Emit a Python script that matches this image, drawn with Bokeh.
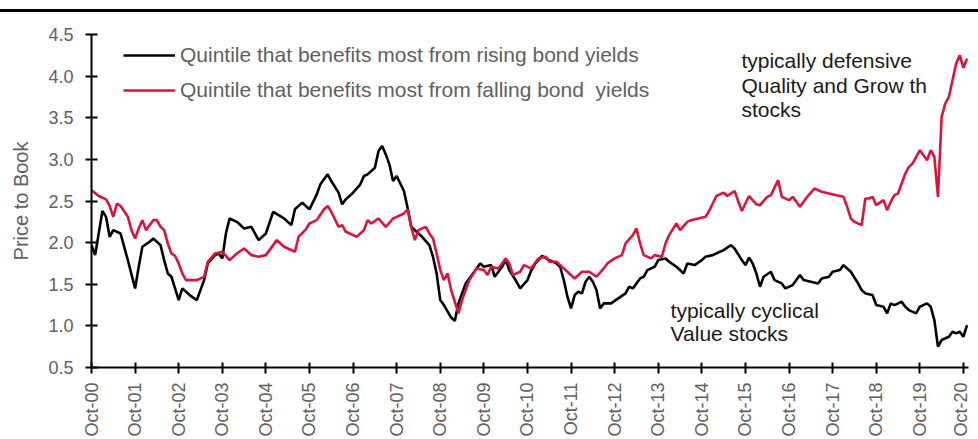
import math
from bokeh.plotting import figure
from bokeh.models import (Range1d, FixedTicker, NumeralTickFormatter, Legend,
                          LegendItem, Label, Div)
from bokeh.layouts import column
from bokeh.embed import file_html
from bokeh.resources import INLINE

# ---- data: months since Oct-2000, price-to-book ----
black_months = [0, 1, 3, 4, 5, 6, 8, 9, 10, 12, 13, 14, 16, 17, 19, 20, 21, 22, 24, 25,
                27, 29, 31, 32, 34, 35, 36, 37, 38, 40, 42, 44, 46, 48, 50, 53, 55, 56, 58, 59,
                60, 62, 63, 65, 66, 68, 69, 70, 72, 74, 75, 76, 78, 79, 80, 81, 82, 83, 84, 86,
                87, 88, 90, 91, 93, 94, 95, 96, 97, 99, 100, 101, 103, 105, 107, 108, 110, 111, 113, 114,
                115, 117, 118, 120, 121, 122, 124, 126, 128, 129, 130, 131, 132, 133, 134, 135, 136, 137, 138, 139,
                140, 141, 143, 145, 147, 148, 149, 151, 152, 153, 155, 156, 158, 159, 161, 163, 164, 166, 168, 169,
                171, 173, 174, 176, 177, 179, 180, 181, 182, 183, 184, 185, 187, 188, 190, 191, 193, 195, 196, 198,
                200, 201, 203, 204, 206, 207, 209, 211, 212, 213, 215, 216, 218, 219, 220, 221, 223, 224, 225, 227,
                228, 230, 231, 232, 233, 234, 236, 237, 238, 239, 240, 241]
black_pb = [1.97, 1.85, 2.38, 2.31, 2.07, 2.15, 2.11, 1.95, 1.79, 1.45, 1.71, 1.95, 2.01, 2.05, 1.97, 1.79, 1.63, 1.59, 1.31, 1.45,
            1.37, 1.31, 1.55, 1.75, 1.85, 1.87, 1.81, 2.11, 2.29, 2.25, 2.17, 2.19, 2.03, 2.11, 2.37, 2.29, 2.21, 2.40, 2.48, 2.44,
            2.40, 2.58, 2.70, 2.82, 2.74, 2.60, 2.46, 2.52, 2.60, 2.70, 2.80, 2.82, 2.90, 3.10, 3.16, 3.06, 2.94, 2.74, 2.80, 2.62,
            2.42, 2.19, 2.11, 2.07, 1.97, 1.83, 1.63, 1.31, 1.25, 1.10, 1.06, 1.27, 1.51, 1.63, 1.75, 1.71, 1.73, 1.59, 1.71, 1.79,
            1.67, 1.53, 1.45, 1.55, 1.66, 1.74, 1.84, 1.79, 1.75, 1.71, 1.55, 1.35, 1.21, 1.37, 1.41, 1.39, 1.53, 1.59, 1.53, 1.43,
            1.21, 1.27, 1.27, 1.33, 1.39, 1.47, 1.45, 1.57, 1.59, 1.67, 1.71, 1.79, 1.81, 1.77, 1.71, 1.63, 1.75, 1.73, 1.79, 1.83,
            1.85, 1.89, 1.91, 1.97, 1.93, 1.79, 1.73, 1.82, 1.75, 1.63, 1.47, 1.59, 1.65, 1.55, 1.51, 1.45, 1.49, 1.61, 1.55, 1.53,
            1.51, 1.57, 1.59, 1.65, 1.67, 1.73, 1.65, 1.51, 1.43, 1.39, 1.37, 1.25, 1.23, 1.15, 1.27, 1.25, 1.29, 1.23, 1.19, 1.15,
            1.23, 1.27, 1.23, 1.07, 0.75, 0.83, 0.87, 0.93, 0.91, 0.93, 0.87, 1.01]

red_months = [0, 2, 4, 5, 6, 7, 8, 10, 11, 12, 13, 14, 15, 17, 18, 19, 20, 21, 22, 23,
              24, 25, 26, 29, 31, 32, 34, 36, 38, 40, 42, 44, 46, 48, 51, 53, 54, 56, 57, 59,
              60, 62, 64, 65, 66, 68, 69, 70, 72, 73, 75, 76, 77, 79, 81, 83, 84, 86, 87, 88,
              89, 90, 92, 93, 94, 95, 96, 97, 98, 99, 101, 102, 104, 106, 108, 109, 110, 112, 114, 115,
              116, 118, 119, 121, 122, 123, 125, 126, 128, 129, 131, 133, 135, 137, 139, 141, 142, 144, 146, 147,
              149, 150, 151, 152, 154, 155, 157, 158, 159, 161, 162, 164, 165, 167, 169, 170, 172, 174, 175, 177,
              178, 179, 181, 183, 184, 186, 187, 189, 190, 192, 193, 195, 197, 199, 201, 203, 205, 207, 208, 209,
              210, 212, 213, 214, 215, 216, 218, 219, 220, 221, 222, 224, 225, 226, 228, 229, 230, 231, 232, 233,
              234, 235, 236, 237, 238, 239, 240, 241]
red_pb = [2.63, 2.56, 2.52, 2.44, 2.31, 2.47, 2.44, 2.31, 2.15, 2.05, 2.17, 2.27, 2.15, 2.27, 2.27, 2.19, 2.15, 1.99, 1.87, 1.84,
          1.75, 1.63, 1.55, 1.55, 1.59, 1.77, 1.87, 1.89, 1.79, 1.87, 1.93, 1.85, 1.83, 1.85, 2.03, 1.95, 1.93, 1.89, 2.07, 2.16,
          2.23, 2.27, 2.40, 2.44, 2.37, 2.19, 2.21, 2.13, 2.09, 2.07, 2.15, 2.27, 2.23, 2.29, 2.19, 2.29, 2.31, 2.35, 2.40, 2.19,
          2.03, 2.15, 2.19, 2.11, 2.05, 1.87, 1.67, 1.55, 1.63, 1.43, 1.15, 1.31, 1.55, 1.69, 1.67, 1.61, 1.71, 1.69, 1.81, 1.75,
          1.61, 1.65, 1.73, 1.69, 1.75, 1.81, 1.83, 1.77, 1.77, 1.73, 1.65, 1.57, 1.65, 1.65, 1.59, 1.69, 1.75, 1.81, 1.85, 1.99,
          2.09, 2.17, 1.99, 1.85, 1.81, 1.85, 1.83, 1.99, 2.09, 2.23, 2.15, 2.25, 2.27, 2.29, 2.31, 2.38, 2.56, 2.60, 2.56, 2.62,
          2.50, 2.38, 2.56, 2.46, 2.45, 2.55, 2.57, 2.75, 2.55, 2.51, 2.55, 2.43, 2.55, 2.65, 2.61, 2.59, 2.57, 2.55, 2.43, 2.29,
          2.25, 2.21, 2.53, 2.53, 2.55, 2.45, 2.51, 2.39, 2.49, 2.57, 2.59, 2.83, 2.91, 2.95, 3.11, 3.05, 2.99, 3.11, 3.03, 2.55,
          3.51, 3.67, 3.75, 3.95, 4.15, 4.25, 4.10, 4.21]

x_tick_months = [0, 12, 24, 36, 48, 60, 72, 84, 96, 108, 120, 132, 144, 156, 168, 180, 192, 204, 216, 228, 240]
x_tick_labels = ["Oct-00", "Oct-01", "Oct-02", "Oct-03", "Oct-04", "Oct-05", "Oct-06", "Oct-07", "Oct-08", "Oct-09",
                 "Oct-10", "Oct-11", "Oct-12", "Oct-13", "Oct-14", "Oct-15", "Oct-16", "Oct-17", "Oct-18", "Oct-19", "Oct-20"]
y_ticks = [0.5, 1.0, 1.5, 2.0, 2.5, 3.0, 3.5, 4.0, 4.5]

series_names = ["Quintile that benefits most from rising bond yields",
                "Quintile that benefits most from falling bond  yields"]
note_defensive = "typically defensive\nQuality and Grow th\nstocks"
note_cyclical = "typically cyclical\nValue stocks"

FONT = "Liberation Sans"
GRAY = "#606060"
RED = "#DC143C"

p = figure(width=970, height=427, x_range=Range1d(0, 241.4), y_range=Range1d(0.5, 4.5),
           output_backend="svg", toolbar_location=None,
           min_border_left=91, min_border_right=2, min_border_top=22, min_border_bottom=72)
p.xgrid.visible = False
p.ygrid.visible = False
p.outline_line_color = None
p.background_fill_color = "white"
p.border_fill_color = "white"

ya = p.yaxis[0]
ya.ticker = FixedTicker(ticks=y_ticks)
ya.formatter = NumeralTickFormatter(format="0.0")
ya.major_tick_in = 6
ya.major_tick_out = 6
ya.minor_tick_line_color = None
ya.axis_line_width = 2
ya.major_tick_line_width = 2
ya.major_label_text_font = FONT
ya.major_label_text_font_size = "18px"
ya.major_label_text_color = GRAY
ya.major_label_standoff = 12
ya.axis_label = "Price to Book"
ya.axis_label_text_font = FONT
ya.axis_label_text_font_size = "20px"
ya.axis_label_text_font_style = "normal"
ya.axis_label_text_color = GRAY
ya.axis_label_standoff = 13

xa = p.xaxis[0]
xa.ticker = FixedTicker(ticks=x_tick_months)
xa.major_label_overrides = {m: lab for m, lab in zip(x_tick_months, x_tick_labels)}
xa.major_label_orientation = math.pi / 2
xa.major_tick_in = 5
xa.major_tick_out = 6
xa.minor_tick_line_color = None
xa.axis_line_width = 2
xa.major_tick_line_width = 2
xa.major_label_text_font = FONT
xa.major_label_text_font_size = "18px"
xa.major_label_text_color = GRAY
xa.major_label_standoff = 9

r_black = p.line(black_months, black_pb, line_color="black", line_width=2.6)
r_red = p.line(red_months, red_pb, line_color=RED, line_width=2.6)

legend = Legend(items=[LegendItem(label=series_names[0], renderers=[r_black]),
                       LegendItem(label=series_names[1], renderers=[r_red])],
                location=(32, 265), padding=0, margin=0, spacing=11,
                glyph_width=52, glyph_height=24, label_height=24, label_standoff=5,
                label_text_font=FONT, label_text_font_size="21px", label_text_color=GRAY,
                border_line_color=None, background_fill_alpha=0)
p.add_layout(legend, "center")

p.add_layout(Label(x=178.9, y=4.32, text=note_defensive, text_font=FONT, text_font_size="21px",
                   text_color="#1a1a1a", text_baseline="top", text_align="left", text_line_height=1.05))
p.add_layout(Label(x=159.4, y=1.32, text=note_cyclical, text_font=FONT, text_font_size="21px",
                   text_color="#1a1a1a", text_baseline="top", text_align="left", text_line_height=0.97))

top_rule = Div(text="", width=978, height=12, margin=0,
               styles={"background": "linear-gradient(#ffffff 0px, #ffffff 9px, #000000 9px, #000000 12px)"})
layout = column(top_rule, p, spacing=0)

open("out.html", "w").write(file_html(layout, INLINE))
